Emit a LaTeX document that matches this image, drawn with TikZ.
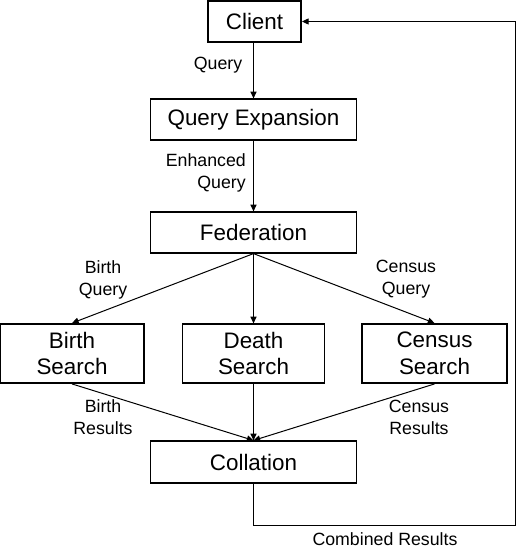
\documentclass[tikz,border=0pt]{standalone}
\usepackage{fontspec}
\setmainfont{Liberation Sans}
\usetikzlibrary{arrows.meta}
\begin{document}
\begin{tikzpicture}[x=0.75pt,y=-0.75pt,
  box/.style={draw,rectangle,inner sep=0pt,font=\fontsize{16.8}{20}\selectfont,align=center,line width=0.9pt},
  thickbox/.style={box,line width=1.4pt},
  lbl/.style={font=\fontsize{13.3}{16.5}\selectfont,align=center,inner sep=0pt},
  conn/.style={line width=0.75pt,-{Triangle[length=5pt,width=4.5pt]}}]
\useasboundingbox (0,0) rectangle (516,548);
\node[thickbox,minimum width=69.75pt,minimum height=30.75pt] (client) at (254.5,21.5) {Client};
\node[box,minimum width=154.5pt,minimum height=30.75pt] (qe) at (253.5,119.5) {Query Expansion};
\node[box,minimum width=154.5pt,minimum height=30.75pt] (fed) at (253.5,232.5) {Federation};
\node[thickbox,minimum width=108pt,minimum height=44.25pt] (birth) at (72,353.5) {Birth\\Search};
\node[box,minimum width=106.5pt,minimum height=44.25pt] (death) at (253.5,353.5) {Death\\Search};
\node[thickbox,minimum width=108.75pt,minimum height=44.25pt] (census) at (434.5,353.5) {Census\\Search};
\node[box,minimum width=154.5pt,minimum height=31.5pt] (coll) at (253.5,462) {Collation};

\draw[conn] (client.south -| qe.north) -- (qe.north);
\draw[conn] (qe) -- (fed);
\draw[conn] (fed.south) -- (birth.north);
\draw[conn] (fed.south) -- (death.north);
\draw[conn] (fed.south) -- (census.north);
\draw[conn] (birth.south) -- (coll.north);
\draw[conn] (death.south) -- (coll.north);
\draw[conn] (census.south) -- (coll.north);

\coordinate (fb1) at (253.5,525);
\coordinate (fb2) at (515,525);
\coordinate (fb3) at (515,21.5);
\draw[conn] (coll.south) -- (fb1) -- (fb2) -- (fb3) -- (client.east);

\node[lbl] (lq) at (218,65) {Query};
\node[lbl,align=right,anchor=east] (leq) at (246,172.5) {Enhanced\\Query};
\node[lbl] (lbq) at (103,279.5) {Birth\\Query};
\node[lbl] (lcq) at (406,279.5) {Census\\Query};
\node[lbl] (lbr) at (103,417.5) {Birth\\Results};
\node[lbl] (lcr) at (419,417.5) {Census\\Results};
\node[lbl] (lcomb) at (385,539) {Combined Results};
\end{tikzpicture}
\end{document}
